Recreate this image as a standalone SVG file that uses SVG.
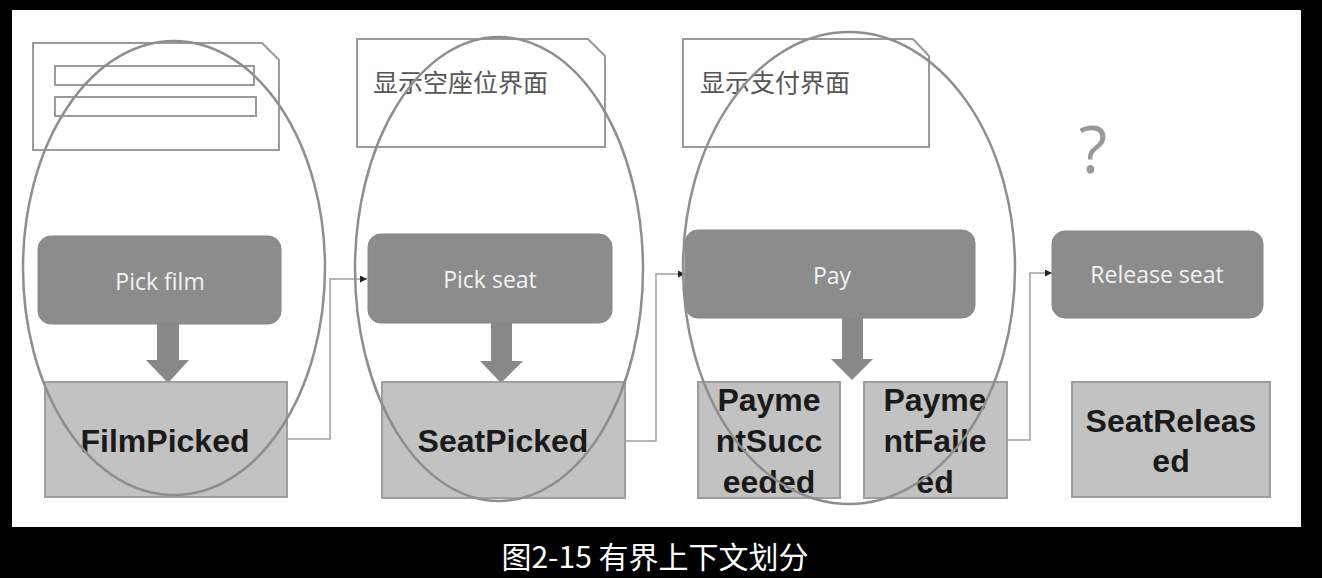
<svg xmlns="http://www.w3.org/2000/svg" width="1322" height="578" viewBox="0 0 1322 578">
<style>
.screen{fill:#fff;stroke:#9a9a9a;stroke-width:2}
.cmd{fill:#8c8c8c;stroke:#858585;stroke-width:1}
.cmdt{font-family:"Open Sans","Liberation Sans",sans-serif;font-size:23px;fill:#f2f2f2;text-anchor:middle}
.evt{fill:#c2c2c2;stroke:#9e9e9e;stroke-width:2}
.evtt{font-family:"Liberation Sans",Arial,sans-serif;font-weight:bold;font-size:32px;fill:#1a1a1a;text-anchor:middle}
.ell{fill:none;stroke:#8e8e8e;stroke-width:2.5}
.conn{fill:none;stroke:#a0a0a0;stroke-width:1.5}
.big{fill:#888}
.cjk{font-family:"Noto Sans CJK SC",sans-serif;font-size:25px;fill:#555}
</style>
<defs>
<marker id="ah" viewBox="0 0 10 10" refX="10" refY="5" markerWidth="7" markerHeight="7" markerUnits="userSpaceOnUse" orient="auto">
<path d="M0,0 L10,5 L0,10 z" fill="#222"/>
</marker>
</defs>
<rect x="0" y="0" width="1322" height="578" fill="#000"/>
<rect x="12" y="10" width="1289" height="517" fill="#fff"/>

<g id="screen1">
<path class="screen" d="M33,43 H262 L279,60 V150 H33 Z"/>
<rect class="screen" x="55" y="66" width="199" height="19"/>
<rect class="screen" x="55" y="97" width="201" height="19"/>
</g>
<g id="screen2">
<path class="screen" d="M357,39 H588 L605,56 V147 H357 Z"/>
<text class="cjk" x="373" y="92">显示空座位界面</text>
</g>
<g id="screen3">
<path class="screen" d="M683,39 H913 L929,56 V147 H683 Z"/>
<text class="cjk" x="700" y="92">显示支付界面</text>
</g>
<g id="question">
<text x="1093" y="173" font-family="Open Sans, Liberation Sans, sans-serif" font-size="66" fill="#999" text-anchor="middle">?</text>
</g>

<g id="connectors">
<path class="conn" d="M287,439 H330 V279 H367" marker-end="url(#ah)"/>
<path class="conn" d="M625,441 H656 V274 H685" marker-end="url(#ah)"/>
<path class="conn" d="M1007,440 H1030 V273 H1052" marker-end="url(#ah)"/>
<path class="big" d="M157,324 H179 V360 H189 L168,383 L146,360 H157 Z"/>
<path class="big" d="M491,323 H512 V361 H523 L501,383 L480,361 H491 Z"/>
<path class="big" d="M842,318 H863 V359 H873 L852,380 L831,359 H842 Z"/>
</g>

<g id="pickFilm">
<rect class="cmd" x="38" y="236" width="243" height="88" rx="13"/>
<text class="cmdt" x="160" y="290">Pick film</text>
</g>
<g id="pickSeat">
<rect class="cmd" x="368" y="234" width="244" height="89" rx="13"/>
<text class="cmdt" x="490" y="288">Pick seat</text>
</g>
<g id="pay">
<rect class="cmd" x="685" y="230" width="290" height="88" rx="13"/>
<text class="cmdt" x="832" y="284">Pay</text>
</g>
<g id="releaseSeat">
<rect class="cmd" x="1052" y="231" width="211" height="87" rx="13"/>
<text class="cmdt" x="1157" y="283">Release seat</text>
</g>

<g id="filmPicked">
<rect class="evt" x="45" y="382" width="242" height="115"/>
<text class="evtt" x="165" y="452">FilmPicked</text>
</g>
<g id="seatPicked">
<rect class="evt" x="382" y="382" width="243" height="116"/>
<text class="evtt" x="503" y="452">SeatPicked</text>
</g>
<g id="paymentSucceeded">
<rect class="evt" x="698" y="382" width="142" height="116"/>
<text class="evtt" x="769" y="411">Payme</text>
<text class="evtt" x="769" y="452">ntSucc</text>
<text class="evtt" x="769" y="493">eeded</text>
</g>
<g id="paymentFailed">
<rect class="evt" x="864" y="382" width="143" height="116"/>
<text class="evtt" x="935" y="411">Payme</text>
<text class="evtt" x="935" y="452">ntFaile</text>
<text class="evtt" x="935" y="493">ed</text>
</g>
<g id="seatReleased">
<rect class="evt" x="1072" y="382" width="198" height="115"/>
<text class="evtt" x="1171" y="432">SeatReleas</text>
<text class="evtt" x="1171" y="472">ed</text>
</g>

<g id="contexts">
<ellipse class="ell" cx="174" cy="268" rx="151" ry="227"/>
<ellipse class="ell" cx="499" cy="269" rx="144" ry="232"/>
<ellipse class="ell" cx="849" cy="268" rx="166" ry="236"/>
</g>

<g id="caption">
<text x="655" y="568" font-family="Noto Sans CJK SC, sans-serif" font-size="30" fill="#fff" text-anchor="middle">图2-15 有界上下文划分</text>
</g>
</svg>
